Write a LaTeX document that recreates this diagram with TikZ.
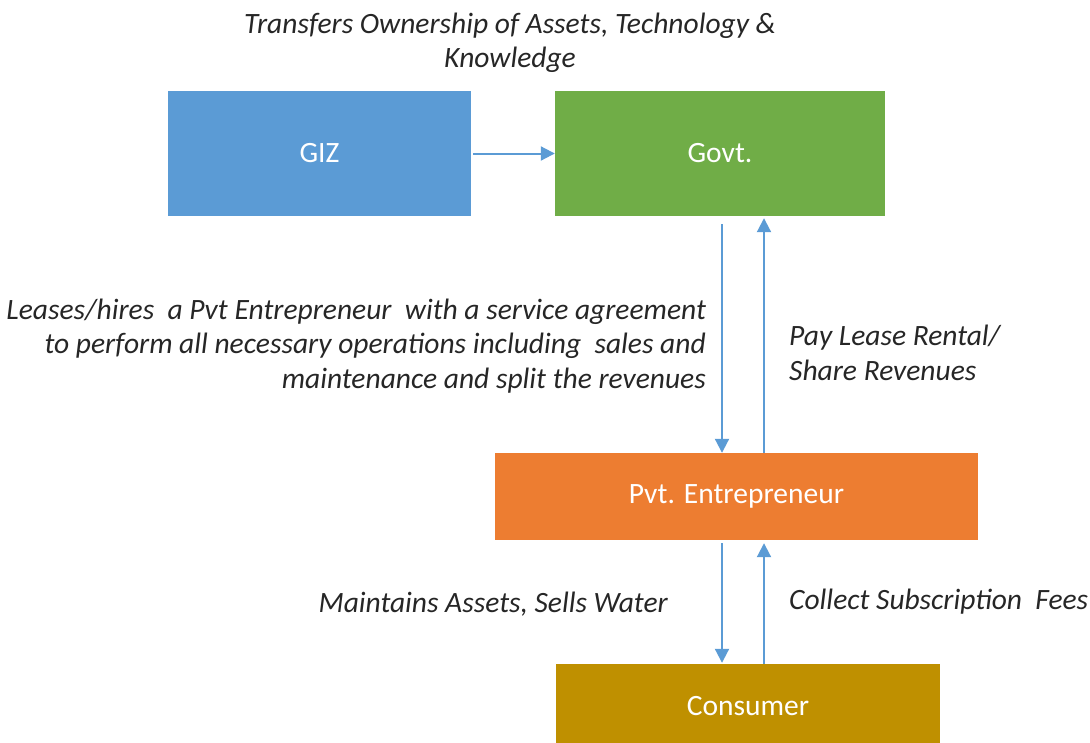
\documentclass[tikz,border=0pt]{standalone}
\usepackage{fontspec}
\setmainfont{Carlito}
\usepackage{tikz}
\usetikzlibrary{arrows.meta,positioning}

\definecolor{gizblue}{HTML}{5B9BD5}
\definecolor{govgreen}{HTML}{70AD47}
\definecolor{pvtorange}{HTML}{ED7D31}
\definecolor{consgold}{HTML}{BF9000}
\definecolor{linkblue}{HTML}{5B9BD5}
\definecolor{txtgray}{HTML}{262626}

\begin{document}
\begin{tikzpicture}[x=1pt,y=-1pt,
  box/.style={draw=none,text=white,minimum width=#1,inner sep=0pt,
    font=\fontsize{29.5}{35}\selectfont},
  note/.style={text=txtgray,inner sep=0pt,
    font=\fontsize{29.5}{34.5}\selectfont\itshape},
  flow/.style={draw=linkblue,line width=2pt,-{Triangle[width=14pt,length=14pt]}}]
\useasboundingbox (0,0) rectangle (1090,742);

\node[box=303pt,fill=gizblue,minimum height=125pt] (giz) at (319.5,153.5) {GIZ};
\node[box=330pt,fill=govgreen,minimum height=125pt] (govt) at (720,153.5) {Govt.};
\node[box=483pt,fill=pvtorange,minimum height=87pt] (pvt) at (736.5,496.5) {Pvt. Entrepreneur};
\node[box=384pt,fill=consgold,minimum height=84pt] (cons) at (748,706) {Consumer};

\coordinate (dn) at (722,0);
\coordinate (up) at (764,0);

\draw[flow,shorten <=2pt] (giz.east) -- (govt.east -| govt.west);
\draw[flow,shorten <=8pt] (govt.south -| dn) -- (pvt.north -| dn);
\draw[flow,shorten >=2pt] (pvt.north -| up) -- (govt.south -| up);
\draw[flow,shorten <=3pt,shorten >=1pt] (pvt.south -| dn) -- (cons.north -| dn);
\draw[flow,shorten >=3pt] (cons.north -| up) -- (pvt.south -| up);

\node[note,align=center] (own) at (510,43) {Transfers Ownership of Assets, Technology \&\\Knowledge};
\node[note,align=right,anchor=east] (lease) at (706,346) {Leases/hires\ \ a Pvt Entrepreneur\ \ with a service agreement\\to perform all necessary operations including\ \ sales and\\maintenance and split the revenues};
\node[note,align=left,anchor=west] (pay) at (789,353) {Pay Lease Rental/\\Share Revenues};
\node[note,anchor=east] (sell) at (668,604) {Maintains Assets, Sells Water};
\node[note,anchor=west] (fees) at (789,602) {Collect Subscription\ \ Fees};
\end{tikzpicture}
\end{document}
